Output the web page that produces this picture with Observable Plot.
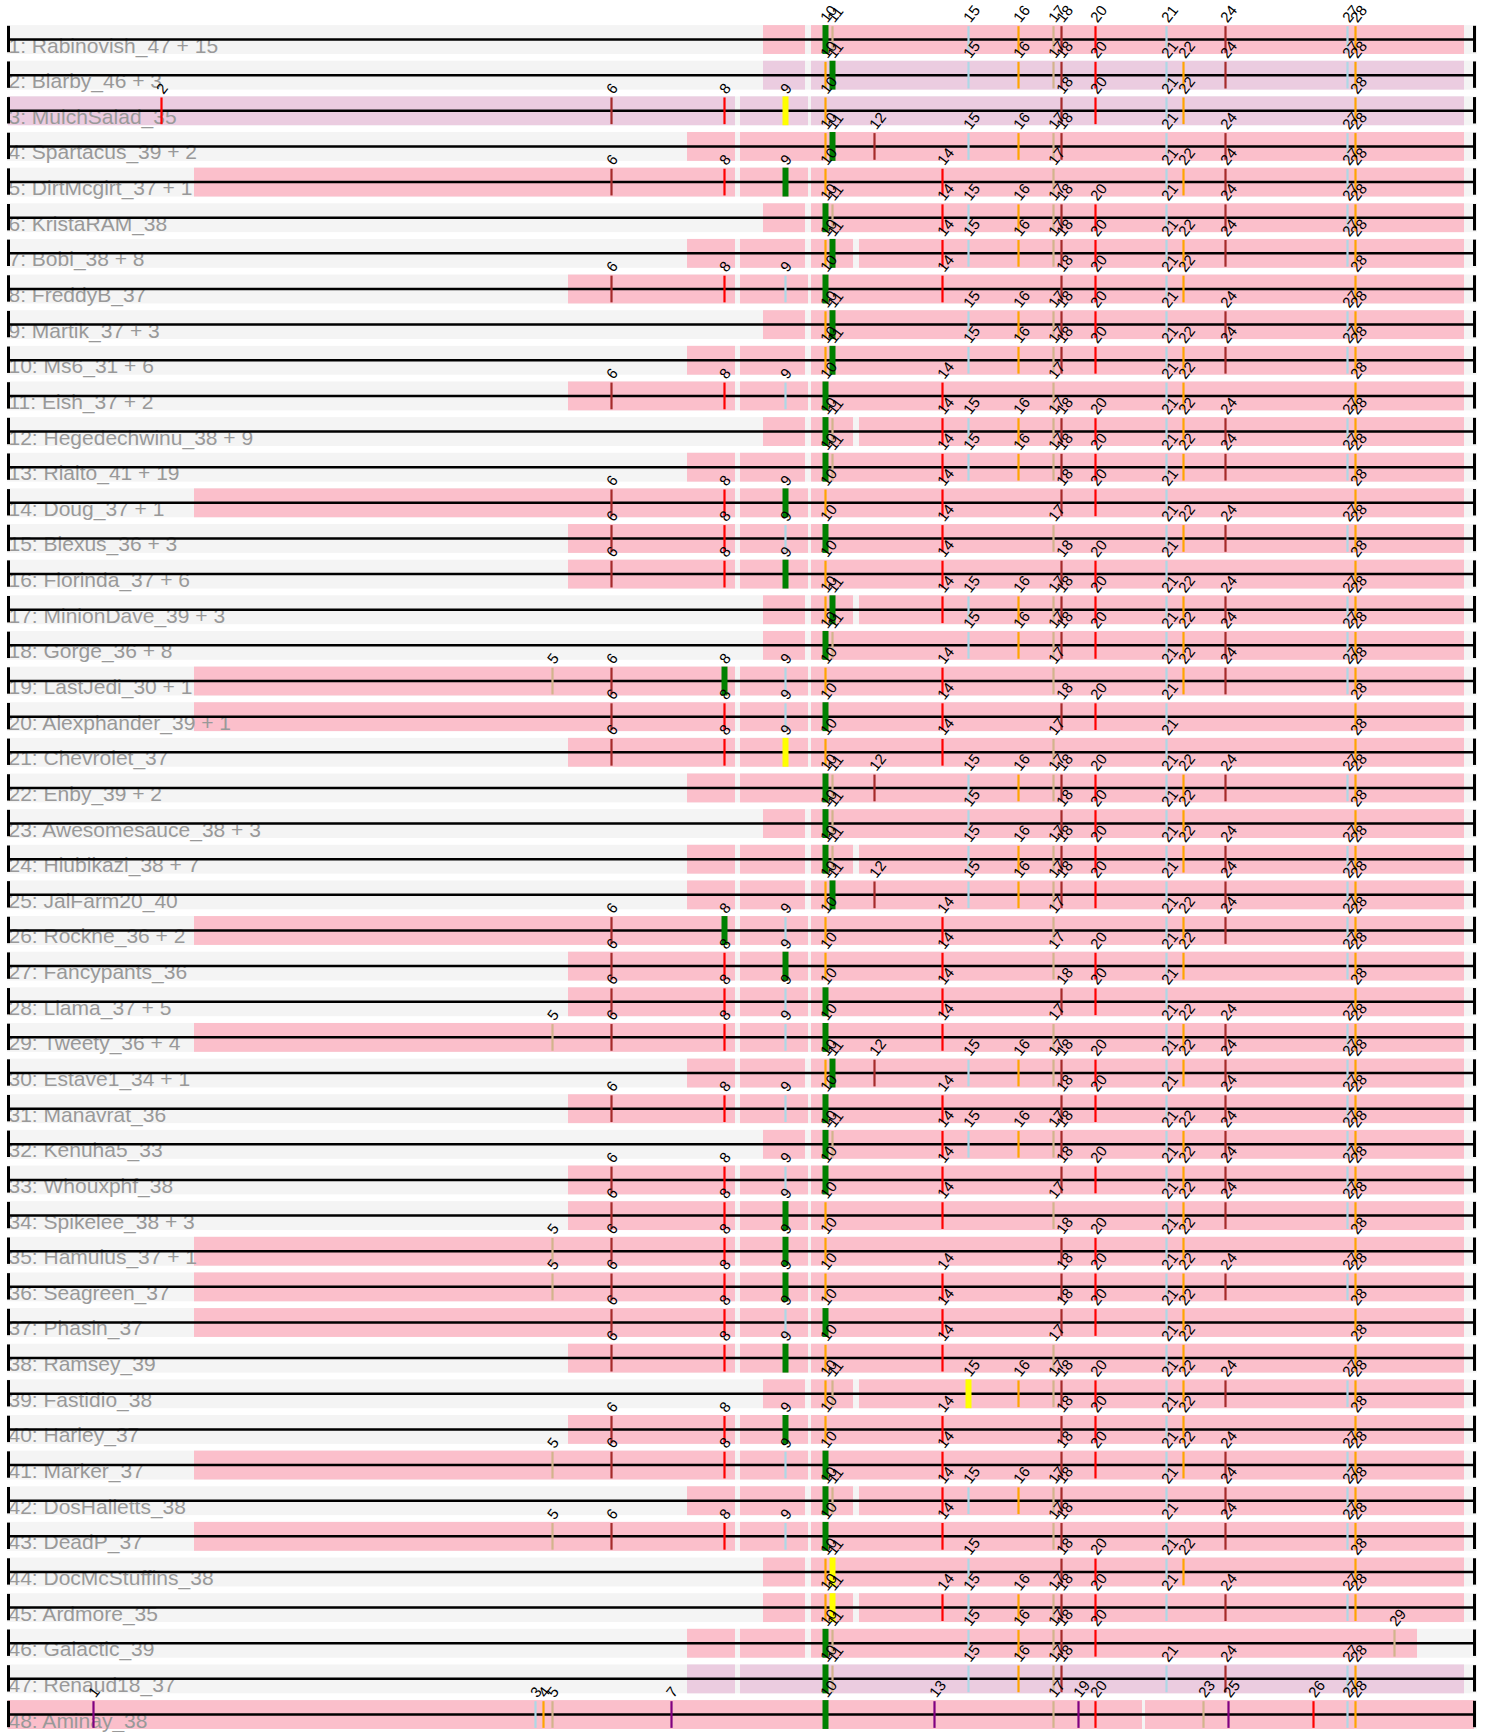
<!DOCTYPE html>
<html><head><meta charset="utf-8">
<script src="https://cdn.jsdelivr.net/npm/d3@7"></script>
<script src="https://cdn.jsdelivr.net/npm/@observablehq/plot@0.6"></script>
<style>html,body{margin:0;padding:0;background:#fff}#chart svg{display:block}</style>
</head><body><div id="chart"></div>
<script>
const names = ["Rabinovish_47 + 15","Blarby_46 + 3","MulchSalad_35","Spartacus_39 + 2","DirtMcgirt_37 + 1","KristaRAM_38","Bobi_38 + 8","FreddyB_37","Martik_37 + 3","Ms6_31 + 6","Eish_37 + 2","Hegedechwinu_38 + 9","Rialto_41 + 19","Doug_37 + 1","Blexus_36 + 3","Florinda_37 + 6","MinionDave_39 + 3","Gorge_36 + 8","LastJedi_30 + 1","Alexphander_39 + 1","Chevrolet_37","Enby_39 + 2","Awesomesauce_38 + 3","Hiubikazi_38 + 7","JalFarm20_40","Rockne_36 + 2","Fancypants_36","Llama_37 + 5","Tweety_36 + 4","Estave1_34 + 1","Manavrat_36","Kenuha5_33","Whouxphf_38","Spikelee_38 + 3","Hamulus_37 + 1","Seagreen_37","Phasin_37","Ramsey_39","Fastidio_38","Harley_37","Marker_37","DosHalletts_38","DeadP_37","DocMcStuffins_38","Ardmore_35","Galactic_39","Renaud18_37","Aminay_38"];

// pham number -> position along the map, and its colour
const phamNums   = [1,2,3,4,5,6,7,8,9,10,11,12,13,14,15,16,17,18,19,20,21,22,23,24,25,26,27,28,29];
const phamPos    = [93,161,535,543,552,611,671,724,785,825,832,874,934,942,968,1018,1053,1061,1078,1095,1166,1183,1203,1225,1228,1313,1347,1355,1394];
const phamColors = ["purple","red","lightblue","orange","tan","brown","purple","red","lightblue","orange","tan","brown","purple","red","lightblue","orange","tan","brown","purple","red","lightblue","orange","tan","brown","purple","red","lightblue","orange","tan"];

const rowTicks = [
 [10,11,15,16,17,18,20,21,24,27,28],
 [10,11,15,16,17,18,20,21,22,24,27,28],
 [2,6,8,9,10,18,20,21,22,28],
 [10,11,12,15,16,17,18,21,24,27,28],
 [6,8,9,10,14,17,21,22,24,27,28],
 [10,11,14,15,16,17,18,20,21,24,27,28],
 [10,11,14,15,16,17,18,20,21,22,24,27,28],
 [6,8,9,10,14,18,20,21,22,28],
 [10,11,15,16,17,18,20,21,24,27,28],
 [10,11,15,16,17,18,20,21,22,24,27,28],
 [6,8,9,10,14,17,21,22,28],
 [10,11,14,15,16,17,18,20,21,22,24,27,28],
 [10,11,14,15,16,17,18,20,21,22,24,27,28],
 [6,8,9,10,14,18,20,21,28],
 [6,8,9,10,14,17,21,22,24,27,28],
 [6,8,9,10,14,18,20,21,28],
 [10,11,14,15,16,17,18,20,21,22,24,27,28],
 [10,11,15,16,17,18,20,21,22,24,27,28],
 [5,6,8,9,10,14,17,21,22,24,27,28],
 [6,8,9,10,14,18,20,21,28],
 [6,8,9,10,14,17,21,28],
 [10,11,12,15,16,17,18,20,21,22,24,27,28],
 [10,11,15,18,20,21,22,28],
 [10,11,15,16,17,18,20,21,22,24,27,28],
 [10,11,12,15,16,17,18,20,21,24,27,28],
 [6,8,9,10,14,17,21,22,24,27,28],
 [6,8,9,10,14,17,20,21,22,27,28],
 [6,8,9,10,14,18,20,21,28],
 [5,6,8,9,10,14,17,21,22,24,27,28],
 [10,11,12,15,16,17,18,20,21,22,24,27,28],
 [6,8,9,10,14,18,20,21,24,27,28],
 [10,11,14,15,16,17,18,21,22,24,27,28],
 [6,8,9,10,14,18,20,21,22,24,27,28],
 [6,8,9,10,14,17,21,22,24,27,28],
 [5,6,8,9,10,18,20,21,22,28],
 [5,6,8,9,10,14,18,20,21,22,24,27,28],
 [6,8,9,10,14,18,20,21,22,28],
 [6,8,9,10,14,17,21,22,28],
 [10,11,15,16,17,18,20,21,22,24,27,28],
 [6,8,9,10,14,18,20,21,22,28],
 [5,6,8,9,10,14,18,20,21,22,24,27,28],
 [10,11,14,15,16,17,18,21,24,27,28],
 [5,6,8,9,10,14,17,18,21,24,27,28],
 [10,11,15,18,20,21,22,28],
 [10,11,14,15,16,17,18,20,21,24,27,28],
 [10,11,15,16,17,18,20,29],
 [10,11,15,16,17,18,21,24,27,28],
 [1,3,4,5,7,10,13,17,19,20,23,25,26,27,28]
];

// highlighted pham per row and its colour
const hiNum   = [10,11,9,11,9,10,11,10,11,11,10,10,10,9,10,9,11,10,8,10,9,10,10,10,11,8,9,10,10,11,10,10,10,9,9,9,10,9,15,9,10,10,10,11,11,10,10,10];
const hiColor = ["green","green","yellow","green","green","green","green","green","green","green","green","green","green","green","green","green","green","green","green","green","yellow","green","green","green","green","green","green","green","green","green","green","green","green","green","green","green","green","green","yellow","green","green","green","green","yellow","yellow","green","green","green"];

// segment layouts (start, end along the map)
const segLayouts = {
  A:  [[763,805],[811,1143],[1143,1247],[1247,1375],[1375,1431],[1431,1464]],
  As: [[763,805],[811,853],[859,1143],[1143,1247],[1247,1375],[1375,1431],[1431,1464]],
  B:  [[687,735],[740,805],[811,1143],[1143,1247],[1247,1375],[1375,1431],[1431,1464]],
  Bs: [[687,735],[740,805],[811,853],[859,1143],[1143,1247],[1247,1375],[1375,1431],[1431,1464]],
  Bc: [[687,735],[740,1143],[1143,1247],[1247,1375],[1375,1431],[1431,1464]],
  Bg: [[687,735],[740,805],[811,1143],[1143,1247],[1247,1375],[1375,1417]],
  C:  [[568,652],[652,735],[740,808],[811,1143],[1143,1247],[1247,1375],[1375,1431],[1431,1464]],
  D:  [[194,652],[652,735],[740,808],[811,1143],[1143,1247],[1247,1375],[1375,1431],[1431,1464]],
  E:  [[8,652],[652,735],[740,808],[811,1143],[1143,1247],[1247,1375],[1375,1431],[1431,1464]],
  F:  [[8,1142],[1145,1474]]
};
const rowLayout = ["A","A","E","Bc","D","A","Bs","C","A","B","C","As","B","D","C","C","As","A","D","D","C","Bc","A","Bs","B","D","C","C","D","B","C","A","C","C","D","D","D","C","As","C","D","Bs","D","A","As","Bg","Bc","F"];
const rowFill = names.map((_, i) => [2, 3, 47].includes(i + 1) ? "#ebcce0" : "#fbbfcb");

const rows = names.map((n, i) => ({k: i + 1, label: `${i + 1}: ${n}`}));
const segs = rows.flatMap((r, i) => segLayouts[rowLayout[i]].map(([a, b]) => ({k: r.k, x1: a, x2: b, fill: rowFill[i]})));
const ticks = rows.flatMap((r, i) => rowTicks[i].map(n => {
  const j = phamNums.indexOf(n);
  const hi = n === hiNum[i];
  return {k: r.k, num: n, pos: phamPos[j], hi, color: hi ? hiColor[i] : phamColors[j]};
}));

const TOP = 0.39, BOT = 0.42;
const chart = Plot.plot({
  width: 1485, height: 1732, margin: 0,
  x: {domain: [0, 1485], range: [0, 1485], axis: null},
  y: {domain: [1, 48], range: [39, 1714], axis: null},
  color: {type: "identity"},
  style: {fontFamily: "'Liberation Sans', Arial, sans-serif", background: "#fff", overflow: "visible"},
  marks: [
    Plot.rect(rows, {x1: 7, x2: 1477, y1: d => d.k - TOP, y2: d => d.k + BOT, fill: "#f4f4f4"}),
    Plot.rect(segs, {x1: "x1", x2: "x2", y1: d => d.k - TOP, y2: d => d.k + BOT, fill: "fill"}),
    Plot.text(rows, {x: 8, y: "k", text: "label", textAnchor: "start", lineAnchor: "bottom", dy: 13, fontSize: 21, fill: "#999"}),
    Plot.ruleY(rows, {y: "k", x1: 8, x2: 1474, stroke: "black", strokeWidth: 2.5}),
    Plot.ruleX(ticks.filter(d => !d.hi), {x: "pos", y1: d => d.k - 0.36, y2: d => d.k + 0.39, stroke: "color", strokeWidth: 2.2}),
    Plot.ruleX(ticks.filter(d => d.hi), {x: "pos", y1: d => d.k - TOP, y2: d => d.k + BOT, stroke: "color", strokeWidth: 6}),
    Plot.ruleX(rows, {x: 8, y1: d => d.k - 0.37, y2: d => d.k + 0.37, stroke: "black", strokeWidth: 3}),
    Plot.ruleX(rows, {x: 1474, y1: d => d.k - 0.37, y2: d => d.k + 0.37, stroke: "black", strokeWidth: 3}),
    Plot.text(ticks, {x: "pos", y: d => d.k - TOP, text: d => String(d.num), rotate: -52, textAnchor: "start", lineAnchor: "bottom", dx: 2, dy: -2, fontSize: 15, fill: "black"})
  ]
});
document.getElementById("chart").appendChild(chart);
</script>
</body></html>
